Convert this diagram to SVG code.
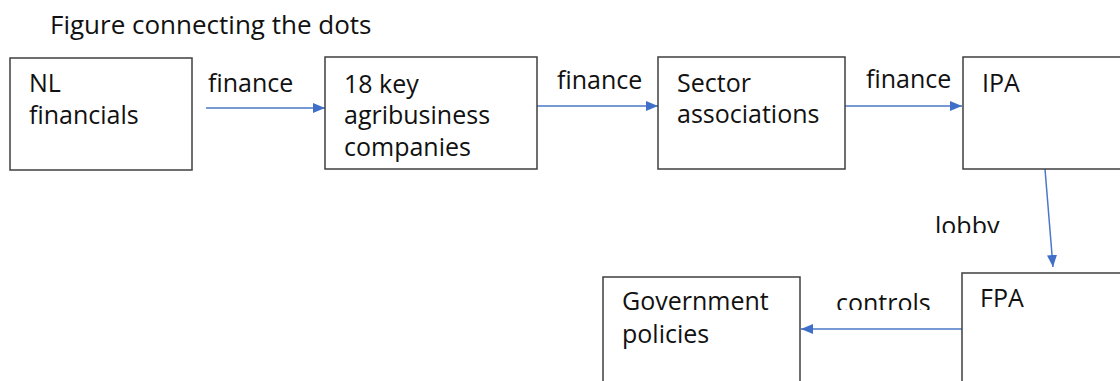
<svg xmlns="http://www.w3.org/2000/svg" width="1120" height="381" viewBox="0 0 1120 381">
<style>
.box{fill:#fff;stroke:#3f3f3f;stroke-width:1.5}
.t{font-family:"Open Sans","Noto Sans",sans-serif;font-size:25px;font-weight:500;fill:#111}
.title{font-size:26px}
.edge{stroke:#4a78c8;stroke-width:1.5;fill:none;marker-end:url(#ah)}
</style>
<defs>
<marker id="ah" markerWidth="12" markerHeight="10" refX="12" refY="5" orient="auto" markerUnits="userSpaceOnUse">
<path d="M0,0 L12,5 L0,10 Z" fill="#3f6fc8"/>
</marker>
<clipPath id="clipLobby"><rect x="900" y="200" width="120" height="33"/></clipPath>
<clipPath id="clipCtrl"><rect x="820" y="280" width="130" height="30"/></clipPath>
</defs>
<rect width="1120" height="381" fill="#fff"/>
<text class="t title" x="50" y="34">Figure connecting the dots</text>
<g id="connectors">
<line class="edge" x1="206" y1="108" x2="325" y2="108"/>
<line class="edge" x1="537" y1="106" x2="658" y2="106"/>
<line class="edge" x1="845" y1="106" x2="962" y2="106"/>
<line class="edge" x1="1045" y1="169" x2="1053" y2="267"/>
<line class="edge" x1="962" y1="329" x2="801" y2="329"/>
<text class="t" x="208" y="92">finance</text>
<text class="t" x="557" y="89">finance</text>
<text class="t" x="866" y="88">finance</text>
<text class="t" x="935" y="235" clip-path="url(#clipLobby)">lobby</text>
<text class="t" x="836" y="312" clip-path="url(#clipCtrl)">controls</text>
</g>
<g id="nl">
<rect class="box" x="10" y="58" width="182" height="112"/>
<text class="t" x="29" y="92">NL</text>
<text class="t" x="29" y="124">financials</text>
</g>
<g id="agri">
<rect class="box" x="325" y="57" width="212" height="112"/>
<text class="t" x="344" y="93">18 key</text>
<text class="t" x="344" y="124">agribusiness</text>
<text class="t" x="344" y="156">companies</text>
</g>
<g id="sector">
<rect class="box" x="658" y="57" width="187" height="112"/>
<text class="t" x="677" y="92">Sector</text>
<text class="t" x="677" y="123">associations</text>
</g>
<g id="ipa">
<rect class="box" x="963" y="57" width="170" height="112"/>
<text class="t" x="982" y="92">IPA</text>
</g>
<g id="fpa">
<rect class="box" x="962" y="273" width="170" height="120"/>
<text class="t" x="980" y="307">FPA</text>
</g>
<g id="gov">
<rect class="box" x="603" y="277" width="197" height="120"/>
<text class="t" x="622" y="310">Government</text>
<text class="t" x="622" y="343">policies</text>
</g>
</svg>
